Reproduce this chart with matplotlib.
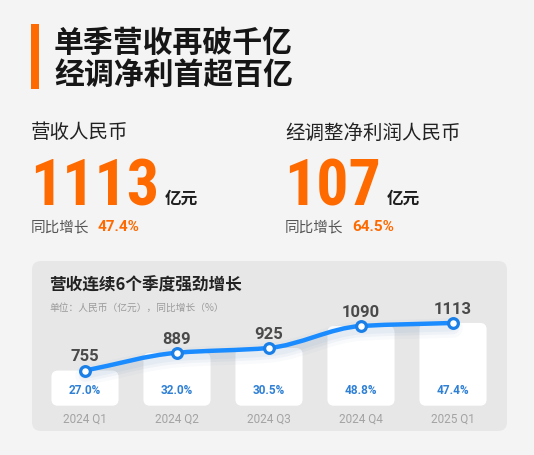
import matplotlib.pyplot as plt
import numpy as np
from matplotlib import font_manager as fm
from matplotlib.patches import FancyBboxPatch, PathPatch, Rectangle
from matplotlib.path import Path
from matplotlib.transforms import offset_copy

# data
quarters = ["2024 Q1", "2024 Q2", "2024 Q3", "2024 Q4", "2025 Q1"]
revenue = [755, 889, 925, 1090, 1113]
growth = ["27.0%", "32.0%", "30.5%", "48.8%", "47.4%"]

headline = ["单季营收再破千亿", "经调净利首超百亿"]
kpi_names = ["营收人民币", "经调整净利润人民币"]
kpi_values = ["1113", "107"]
kpi_growth = ["47.4%", "64.5%"]
unit = "亿元"
yoy = "同比增长"
chart_title = "营收连续6个季度强劲增长"
chart_note = "单位：人民币（亿元），同比增长（%）"

W, H = 534, 456
BG = "#f4f4f4"
PANEL = "#e7e7e7"
ORANGE = "#ff6a00"
BLUE = "#1b8cff"
BLUE_TXT = "#2f80d4"
CJK = ["Noto Sans CJK SC", "DejaVu Sans"]
NUM2 = ["Roboto", "DejaVu Sans"]


def big_number_font():
    # prefer a narrow bold face for the big numbers, then Inter (proportional digits)
    faces = [f for f in fm.fontManager.ttflist
             if f.weight in ("bold", 700) and f.style == "normal"]
    for f in faces:
        if f.name in ("Roboto Condensed", "Liberation Sans Narrow", "DejaVu Sans Condensed"):
            return fm.FontProperties(fname=f.fname), 46
    for f in faces:
        if f.name == "Inter" and f.fname.lower().endswith((".ttf", ".otf")) and "[" not in f.fname:
            return fm.FontProperties(fname=f.fname), 44
    return fm.FontProperties(family=NUM2, weight="bold"), 40


big_font, big_size = big_number_font()

fig = plt.figure(figsize=(W / 100, H / 100), dpi=100, facecolor=BG)

# pixel canvas for the poster part
ax0 = fig.add_axes([0, 0, 1, 1])
ax0.set_xlim(0, W)
ax0.set_ylim(H, 0)
ax0.axis("off")
ax0.set_facecolor(BG)

ax0.add_patch(Rectangle((30.7, 25), 8.3, 65, fc=ORANGE, ec="none"))
for k, line in enumerate(headline):
    ax0.text(54, 42.5 + k * 32.5, line, family=CJK, fontsize=21.5, fontweight="heavy",
             color="#161616", va="center", ha="left")

for x0, name, val, g in zip([31, 285], kpi_names, kpi_values, kpi_growth):
    ax0.text(x0, 133, name, family=CJK, fontsize=14, fontweight="medium",
             color="#222222", va="center")
    t_num = ax0.text(x0 - 1, 206, val, fontproperties=big_font, fontsize=big_size,
                     color=ORANGE, va="baseline")
    ax0.annotate(unit, xy=(1, 204), xycoords=(t_num, "data"), xytext=(4, 0),
                 textcoords="offset points", family=CJK, fontsize=12, fontweight="bold",
                 color="#1e1e1e", va="baseline")
    t_yoy = ax0.text(x0, 227, yoy, family=CJK, fontsize=10.5, color="#555555", va="center")
    ax0.annotate(g, xy=(1, 227), xycoords=(t_yoy, "data"), xytext=(6, 0),
                 textcoords="offset points", family=NUM2, fontsize=11, fontweight="bold",
                 color=ORANGE, va="center")

ax0.add_patch(FancyBboxPatch((32, 262), 475, 170, boxstyle="round,pad=0,rounding_size=9",
                             fc=PANEL, ec="none"))
ax0.text(49, 286, chart_title, family=CJK, fontsize=12, fontweight="bold",
         color="#222222", va="center")
ax0.text(49, 308, chart_note, family=CJK, fontsize=7, color="#9a9a9a", va="center")

# chart axes
base = 491
ax = fig.add_axes([39 / W, (H - 406.7) / H, 460 / W, 106.7 / H])
ax.set_xlim(-0.5, 4.5)
ax.set_ylim(base, 1293)
ax.set_facecolor("none")
for s in ax.spines.values():
    s.set_visible(False)
ax.set_yticks([])
xs = np.arange(len(revenue))
ax.set_xticks(xs, quarters)
ax.tick_params(axis="x", length=0, pad=4, labelsize=8.5, labelcolor="#a3a3a3")
for lab in ax.get_xticklabels():
    lab.set_family(NUM2)

p = ax.transData.transform([(0, 0), (1, 1)])
aspect = (p[1, 0] - p[0, 0]) / (p[1, 1] - p[0, 1])
bw = 0.73
for i, v in enumerate(revenue):
    ax.add_patch(FancyBboxPatch((i - bw / 2, base), bw, v - base,
                                boxstyle="round,pad=0,rounding_size=0.07",
                                mutation_aspect=aspect, fc="white", ec="none", zorder=1))
    ax.annotate(growth[i], (i, base), xytext=(0, 11.5), textcoords="offset points",
                ha="center", va="center", fontsize=8.5, fontweight="bold",
                color=BLUE_TXT, family=NUM2)
    ax.annotate(str(v), (i, v), xytext=(0, 10.5), textcoords="offset points",
                ha="center", va="center", fontsize=12, fontweight="bold",
                color="#4a4a4a", family=NUM2, zorder=6)

# smooth line through the points
ys = np.array(revenue, dtype=float)
d = np.diff(ys)
m = np.empty_like(ys)
m[0], m[-1] = d[0], d[-1]
m[1:-1] = 2 / (1 / d[:-1] + 1 / d[1:])
verts = [(xs[0], ys[0])]
codes = [Path.MOVETO]
for i in range(len(xs) - 1):
    verts += [(xs[i] + 1 / 3, ys[i] + m[i] / 3),
              (xs[i + 1] - 1 / 3, ys[i + 1] - m[i + 1] / 3),
              (xs[i + 1], ys[i + 1])]
    codes += [Path.CURVE4] * 3
path = Path(verts, codes)

shadow = offset_copy(ax.transData, fig=fig, y=-5, units="dots")
for lw, a in [(14, 0.035), (9, 0.05), (5, 0.06)]:
    ax.add_patch(PathPatch(path, fill=False, lw=lw, ec="#4a78b0", alpha=a,
                           transform=shadow, zorder=2, capstyle="round"))
ax.add_patch(PathPatch(path, fill=False, lw=3.2, ec=BLUE, zorder=3, capstyle="round"))
ax.plot(xs, revenue, "o", ms=7, mfc="white", mec="#1a7fe6", mew=2.3, zorder=5, clip_on=False)

fig.savefig("out.png", dpi=100, facecolor=BG)
